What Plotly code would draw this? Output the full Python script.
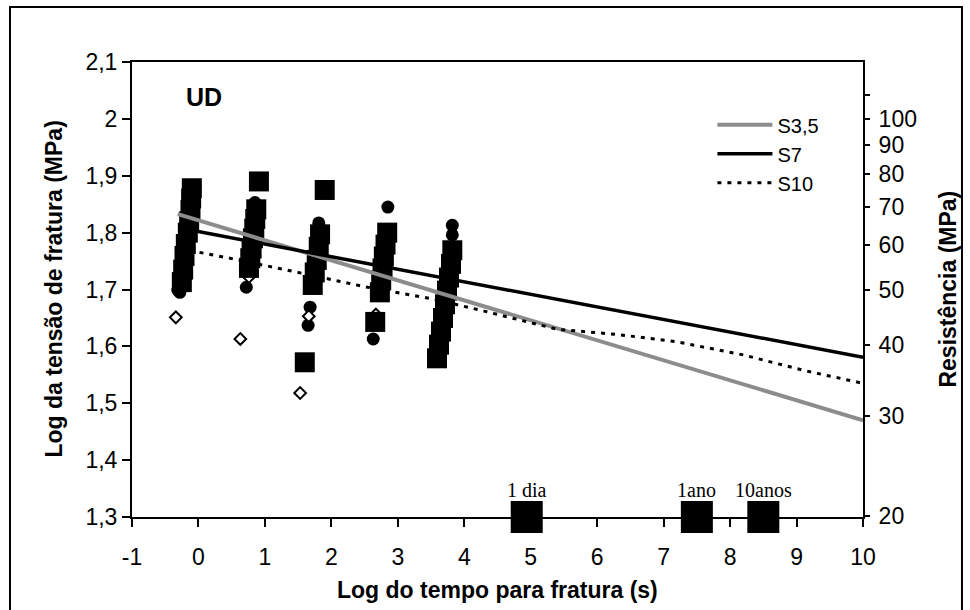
import numpy as np
import plotly.graph_objects as go

# ---- data -------------------------------------------------------------
# filled squares (log time, log stress)
sq_x = [-0.25, -0.23, -0.21, -0.19, -0.16, -0.14, -0.12, -0.11, -0.10,
        0.76, 0.78, 0.80, 0.82, 0.84, 0.855, 0.87, 0.91,
        1.72, 1.75, 1.78, 1.81, 1.83, 1.90, 1.60,
        2.73, 2.75, 2.77, 2.79, 2.815, 2.84, 2.66,
        3.82, 3.80, 3.77, 3.74, 3.71, 3.68, 3.65, 3.62, 3.59]
sq_y = [1.713, 1.735, 1.759, 1.780, 1.800, 1.820, 1.840, 1.860, 1.878,
        1.738, 1.755, 1.772, 1.790, 1.807, 1.824, 1.841, 1.890,
        1.708, 1.730, 1.752, 1.775, 1.797, 1.875, 1.572,
        1.695, 1.716, 1.737, 1.758, 1.779, 1.800, 1.643,
        1.769, 1.745, 1.721, 1.698, 1.674, 1.650, 1.626, 1.603, 1.579]

# filled circles
ci_x = [-0.31, -0.28, -0.05, 0.72, 0.85, 1.68, 1.65, 1.81, 2.85, 2.63, 3.82, 3.82]
ci_y = [1.699, 1.695, 1.883, 1.704, 1.853, 1.669, 1.637, 1.817, 1.845, 1.613, 1.813, 1.796]

# open diamonds
di_x = [-0.34, 0.63, 1.53, 1.66, 2.67, -0.24, 0.76]
di_y = [1.651, 1.613, 1.518, 1.653, 1.656, 1.738, 1.722]

# regression lines
s35_x = [-0.31, 10]
s35_y = [1.8325, 1.470]
s7_x = [-0.28, 10]
s7_y = [1.808, 1.581]
s10_x = [-0.28, 0.6, 1.5, 2.5, 3.5, 4.3, 5.4, 6.3, 7.2, 8.2, 9.1, 10]
s10_y = [1.772, 1.752, 1.730, 1.705, 1.684, 1.662, 1.630, 1.621, 1.608, 1.585, 1.558, 1.535]

# reference durations on the time axis
ref_x = [4.94, 7.5, 8.5]
ref_y = [1.3, 1.3, 1.3]
ref_labels = ["1 dia", "1ano", "10anos"]

# axis ticks
x_ticks = list(range(-1, 11))
x_ticktext = ["-1", "0", "1", "2", "3", "4", "5", "6", "7", "8", "9", "10"]
y_ticks = [1.3, 1.4, 1.5, 1.6, 1.7, 1.8, 1.9, 2.0, 2.1]
y_ticktext = ["1,3", "1,4", "1,5", "1,6", "1,7", "1,8", "1,9", "2", "2,1"]
mpa_values = [20, 30, 40, 50, 60, 70, 80, 90, 100, 110]
mpa_text = ["20", "30", "40", "50", "60", "70", "80", "90", "100", ""]

SANS = "Arial, Liberation Sans, sans-serif"
SERIF = "Times New Roman, Liberation Serif, serif"

fig = go.Figure()

fig.add_trace(go.Scatter(
    x=ci_x, y=ci_y, mode="markers", showlegend=False,
    marker=dict(symbol="circle", size=13, color="black", line=dict(width=0))))
fig.add_trace(go.Scatter(
    x=di_x, y=di_y, mode="markers", showlegend=False,
    marker=dict(symbol="diamond", size=9, color="white",
                line=dict(color="black", width=2))))
fig.add_trace(go.Scatter(
    x=sq_x, y=sq_y, mode="markers", showlegend=False,
    marker=dict(symbol="square", size=20, color="black", line=dict(width=0))))

fig.add_trace(go.Scatter(
    x=s35_x, y=s35_y, mode="lines", name="S3,5",
    line=dict(color="#8c8c8c", width=4)))
fig.add_trace(go.Scatter(
    x=s7_x, y=s7_y, mode="lines", name="S7",
    line=dict(color="black", width=3.5)))
fig.add_trace(go.Scatter(
    x=s10_x, y=s10_y, mode="lines", name="S10",
    line=dict(color="black", width=3, dash="4px,6px")))

fig.add_trace(go.Scatter(
    x=ref_x, y=ref_y, mode="markers", showlegend=False, cliponaxis=False,
    marker=dict(symbol="square", size=32, color="black", line=dict(width=0))))

# invisible trace to bring up the right-hand MPa axis
fig.add_trace(go.Scatter(x=[None], y=[None], yaxis="y2", showlegend=False,
                         hoverinfo="skip"))

for xv, lab in zip(ref_x, ref_labels):
    fig.add_annotation(x=xv, y=1.3475, text=lab, showarrow=False,
                       xanchor="center", yanchor="middle",
                       font=dict(family=SERIF, size=20, color="black"))

fig.add_annotation(x=0.08, y=2.038, text="<b>UD</b>", showarrow=False,
                   xanchor="center", yanchor="middle",
                   font=dict(family=SANS, size=25, color="black"))

# axis titles
fig.add_annotation(xref="paper", yref="paper", x=0.5, y=-0.160,
                   text="<b>Log do tempo para fratura (s)</b>", showarrow=False,
                   xanchor="center", yanchor="middle",
                   font=dict(family=SANS, size=23, color="black"))
fig.add_annotation(xref="paper", yref="paper", x=-0.108, y=0.5, textangle=-90,
                   text="<b>Log da tensão de fratura (MPa)</b>", showarrow=False,
                   xanchor="center", yanchor="middle",
                   font=dict(family=SANS, size=23, color="black"))
fig.add_annotation(xref="paper", yref="paper", x=1.115, y=0.5, textangle=-90,
                   text="<b>Resistência (MPa)</b>", showarrow=False,
                   xanchor="center", yanchor="middle",
                   font=dict(family=SANS, size=23, color="black"))

# outer frame around the whole chart
fig.add_shape(type="rect", xref="paper", yref="paper",
              x0=-0.1669, x1=1.1354, y0=-0.215, y1=1.1209,
              line=dict(color="black", width=2), fillcolor="rgba(0,0,0,0)")

axis_common = dict(showgrid=False, zeroline=False, showline=True,
                   linecolor="black", linewidth=2, ticks="outside",
                   tickcolor="black", tickwidth=2,
                   tickfont=dict(family=SANS, size=23, color="black"))

fig.update_layout(
    width=970, height=610,
    margin=dict(l=132, r=107, t=62, b=93),
    paper_bgcolor="white", plot_bgcolor="white",
    xaxis=dict(range=[-1, 10], tickmode="array", tickvals=x_ticks,
               ticktext=x_ticktext, ticklen=8, mirror=True,
               ticklabelstandoff=10, **axis_common),
    yaxis=dict(range=[1.3, 2.1], tickmode="array", tickvals=y_ticks,
               ticktext=y_ticktext, ticklen=8, **axis_common),
    yaxis2=dict(range=[1.3, 2.1], overlaying="y", side="right", anchor="x",
                tickmode="array", tickvals=list(np.log10(mpa_values)),
                ticktext=mpa_text, ticklen=5, ticklabelstandoff=4,
                **axis_common),
    legend=dict(x=0.794, y=0.905, xanchor="left", yanchor="top",
                bgcolor="rgba(0,0,0,0)", borderwidth=0, itemwidth=55,
                font=dict(family=SANS, size=20, color="black"),
                tracegroupgap=0),
    showlegend=True,
)

fig.write_html("out.html")
